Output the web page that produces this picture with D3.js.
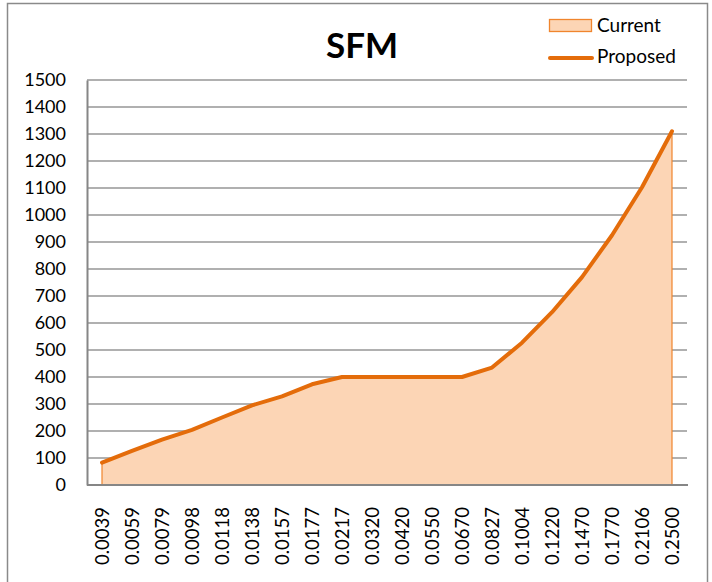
<!DOCTYPE html>
<html>
<head>
<meta charset="utf-8">
<script src="https://cdn.jsdelivr.net/npm/d3@7"></script>
<style>
  body { margin: 0; background: #fff; }
  text { font-family: Lato, "Open Sans", sans-serif; fill: #000; }
</style>
</head>
<body>
<div id="chart"></div>
<script>
// data
var categories = ["0.0039","0.0059","0.0079","0.0098","0.0118","0.0138","0.0157","0.0177","0.0217","0.0320",
                  "0.0420","0.0550","0.0670","0.0827","0.1004","0.1220","0.1470","0.1770","0.2106","0.2500"];
var current  = [83,126,168,204,250,295,328,373,400,400,400,400,400,435,527,640,770,925,1103,1310];
var proposed = [83,126,168,204,250,295,328,373,400,400,400,400,400,435,527,640,770,925,1103,1310];
var yTicks = [0,100,200,300,400,500,600,700,800,900,1000,1100,1200,1300,1400,1500];
var seriesNames = ["Current", "Proposed"];

var width = 712, height = 582;
var margin = {left: 87, right: 25, top: 80, bottom: 97};

var svg = d3.select("#chart").append("svg")
    .attr("width", width)
    .attr("height", height);

// outer chart frame
svg.append("rect")
    .attr("x", 7.5).attr("y", 3.5)
    .attr("width", 700).attr("height", 620)
    .attr("fill", "none")
    .attr("stroke", "#8a8a8a")
    .attr("stroke-width", 1.5);

var x = d3.scalePoint().domain(categories)
    .range([margin.left, width - margin.right]).padding(0.5);
var y = d3.scaleLinear().domain([0, 1500])
    .range([height - margin.bottom, margin.top]);

// gridlines
svg.append("g").selectAll("line")
    .data(yTicks.slice(1))
    .enter().append("line")
    .attr("x1", margin.left).attr("x2", width - margin.right)
    .attr("y1", function(d) { return y(d); })
    .attr("y2", function(d) { return y(d); })
    .attr("stroke", "#969696")
    .attr("stroke-width", 1.3);

// area (Current)
var area = d3.area()
    .x(function(d, i) { return x(categories[i]); })
    .y0(y(0))
    .y1(function(d) { return y(d); });
svg.append("path")
    .datum(current)
    .attr("d", area)
    .attr("fill", "#FCD5B5")
    .attr("stroke", "#F0852D")
    .attr("stroke-width", 1.2);

// axes
var yAxis = svg.append("g")
    .attr("transform", "translate(" + margin.left + ",0)")
    .call(d3.axisLeft(y).tickValues(yTicks).tickFormat(d3.format("d")).tickSize(0).tickPadding(21));
yAxis.select(".domain").attr("stroke", "#868686").attr("stroke-width", 2);
yAxis.selectAll("text").style("font-size", "18px").style("font-family", "Lato");

var xAxis = svg.append("g")
    .attr("transform", "translate(0," + y(0) + ")")
    .call(d3.axisBottom(x).tickSize(0).tickSizeOuter(0));
xAxis.select(".domain")
    .attr("d", "M" + margin.left + ",0H" + (width - margin.right + 1))
    .attr("stroke", "#868686").attr("stroke-width", 2);
xAxis.selectAll("text")
    .style("font-size", "18.5px").style("font-family", "Lato")
    .attr("text-anchor", "end")
    .attr("transform", "rotate(-90)")
    .attr("x", -22)
    .attr("y", 0)
    .attr("dy", "0.36em");

// line (Proposed)
var line = d3.line()
    .x(function(d, i) { return x(categories[i]); })
    .y(function(d) { return y(d); });
svg.append("path")
    .datum(proposed)
    .attr("d", line)
    .attr("fill", "none")
    .attr("stroke", "#E46C0A")
    .attr("stroke-width", 4)
    .attr("stroke-linejoin", "round")
    .attr("stroke-linecap", "round");

// title
svg.append("text")
    .attr("x", 362)
    .attr("y", 58)
    .attr("text-anchor", "middle")
    .style("font-size", "35px")
    .style("font-weight", "bold")
    .text("SFM");

// legend
var legend = svg.append("g");
legend.append("rect")
    .attr("x", 549.5).attr("y", 19.5)
    .attr("width", 42).attr("height", 12)
    .attr("fill", "#FCD5B5")
    .attr("stroke", "#F0852D")
    .attr("stroke-width", 1.3);
legend.append("line")
    .attr("x1", 550).attr("x2", 592)
    .attr("y1", 58).attr("y2", 58)
    .attr("stroke", "#E46C0A")
    .attr("stroke-width", 4)
    .attr("stroke-linecap", "round");
legend.selectAll("text.lg")
    .data(seriesNames)
    .enter().append("text")
    .attr("class", "lg")
    .attr("x", 597)
    .attr("y", function(d, i) { return 32 + i * 31; })
    .style("font-size", "19px")
    .text(function(d) { return d; });
</script>
</body>
</html>
